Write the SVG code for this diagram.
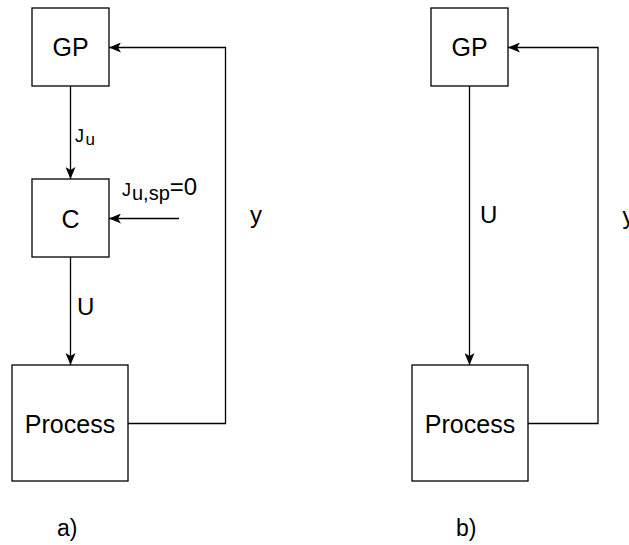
<svg xmlns="http://www.w3.org/2000/svg" width="629" height="545" viewBox="0 0 629 545">
<style>
.box{fill:#fff;stroke:#000;stroke-width:1.3}
.edge{fill:none;stroke:#000;stroke-width:1.3}
text{font-family:"Liberation Sans",Arial,sans-serif;fill:#000}
.lbl{font-size:25px;text-anchor:middle}
.el{font-size:24px}
.cap{font-size:23px}
.j{font-size:18px}
.sub{font-size:17px}
.sub2{font-size:20px}
.eq{font-size:24px}
</style>
<defs>
<marker id="arr" viewBox="0 0 12 10" refX="12" refY="5" markerWidth="12" markerHeight="10" markerUnits="userSpaceOnUse" orient="auto">
<path d="M0,0 L12,5 L0,10 L3,5 Z" fill="#000"/>
</marker>
</defs>
<g id="connectors">
<path class="edge" d="M70.5,86 V179" marker-end="url(#arr)"/>
<path class="edge" d="M70.5,257 V365" marker-end="url(#arr)"/>
<path class="edge" d="M179,218.5 H109" marker-end="url(#arr)"/>
<path class="edge" d="M128,423.5 H225.5 V47.5 H109" marker-end="url(#arr)"/>
<path class="edge" d="M469.5,86 V365" marker-end="url(#arr)"/>
<path class="edge" d="M528,423.5 H598 V47.5 H508" marker-end="url(#arr)"/>
</g>
<g id="a-gp"><rect class="box" x="32" y="8" width="77" height="78"/><text class="lbl" x="70.5" y="56">GP</text></g>
<g id="a-c"><rect class="box" x="32" y="179" width="77" height="78"/><text class="lbl" x="70.5" y="227.5">C</text></g>
<g id="a-process"><rect class="box" x="12" y="365" width="116" height="116"/><text class="lbl" x="70" y="432.5">Process</text></g>
<g id="b-gp"><rect class="box" x="431" y="8" width="77" height="78"/><text class="lbl" x="469.5" y="56">GP</text></g>
<g id="b-process"><rect class="box" x="412" y="365" width="116" height="116"/><text class="lbl" x="470" y="432.5">Process</text></g>
<g id="labels">
<text class="j" x="75" y="141.7">J<tspan class="sub" x="85.5" y="144.5">u</tspan></text>
<text class="j" x="122" y="195.5">J<tspan class="sub2" x="132" y="199.5">u,sp</tspan><tspan class="eq" y="194.5">=0</tspan></text>
<text class="el" x="77" y="315">U</text>
<text class="el" x="250" y="223">y</text>
<text class="el" x="480" y="222.5">U</text>
<text class="el" x="622.5" y="224">y</text>
<text class="cap" x="57" y="535.5">a)</text>
<text class="cap" x="456" y="535.5">b)</text>
</g>
</svg>
